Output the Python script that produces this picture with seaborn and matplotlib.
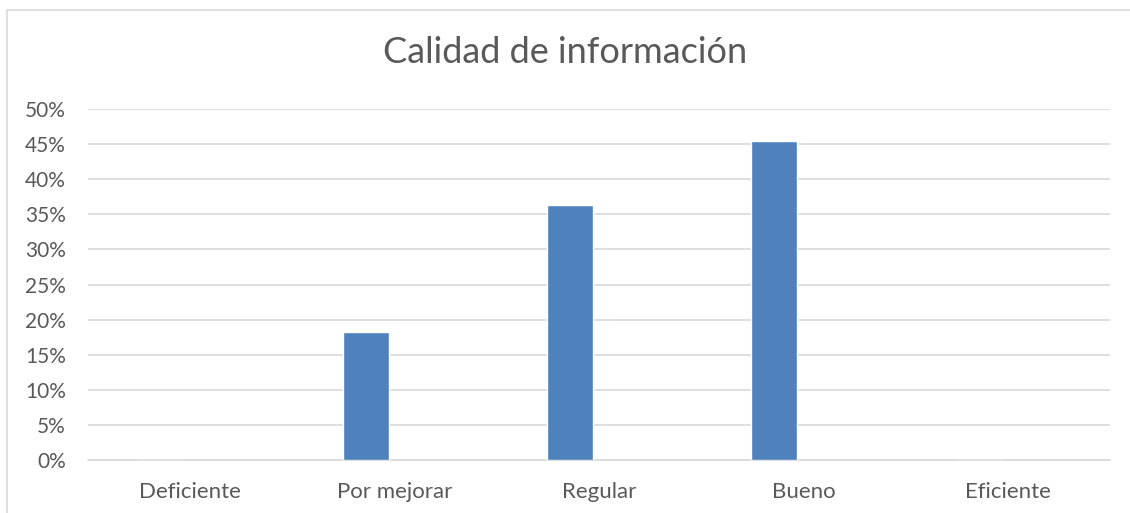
import pandas as pd
import matplotlib.pyplot as plt
import seaborn as sns
from matplotlib.patches import Rectangle
from matplotlib.ticker import PercentFormatter

# Data
categories = ["Deficiente", "Por mejorar", "Regular", "Bueno", "Eficiente"]
values = [0.0, 18.18, 36.36, 45.45, 0.0]
y_ticks = [0, 5, 10, 15, 20, 25, 30, 35, 40, 45, 50]

# second (empty) series, as in the original sheet, pushes bars left of centre
df = pd.DataFrame({
    "categoria": categories * 2,
    "porcentaje": values + [float("nan")] * len(categories),
    "serie": ["Serie 1"] * len(categories) + ["Serie 2"] * len(categories),
})

sns.set_style("white")
plt.rcParams["font.family"] = ["Lato", "DejaVu Sans"]

fig = plt.figure(figsize=(11.3, 5.13), dpi=100)
ax = fig.add_axes([0.0779, 0.1033, 0.9044, 0.6842])

sns.barplot(data=df, x="categoria", y="porcentaje", hue="serie",
            hue_order=["Serie 1", "Serie 2"], palette=["#4F81BD", "#C0504D"],
            width=0.568, gap=0.21, saturation=1, legend=False, ax=ax, zorder=3)

ax.set_ylim(0, 50)
ax.set_yticks(y_ticks)
ax.yaxis.set_major_formatter(PercentFormatter(decimals=0))
ax.set_xlim(-0.5, 4.5)
ax.grid(axis="y", color="#D9D9D9", linewidth=1.2, zorder=0)
for side in ["top", "right", "left"]:
    ax.spines[side].set_visible(False)
ax.spines["bottom"].set_color("#D9D9D9")
ax.spines["bottom"].set_linewidth(1.2)

ax.tick_params(axis="both", length=0, colors="#595959")
ax.tick_params(axis="y", pad=16, labelsize=15)
ax.tick_params(axis="x", pad=16, labelsize=16)
ax.set_xlabel("")
ax.set_ylabel("")

fig.text(0.5, 0.897, "Calidad de información", ha="center", va="center",
         fontsize=26, color="#595959")

# chart frame, only left and top visible
fig.patches.append(Rectangle((7 / 1130, -0.1), 1.2, 1.1 - 10 / 513,
                             transform=fig.transFigure, fill=False,
                             edgecolor="#D9D9D9", linewidth=1.2))

fig.savefig("out.png", dpi=100)
